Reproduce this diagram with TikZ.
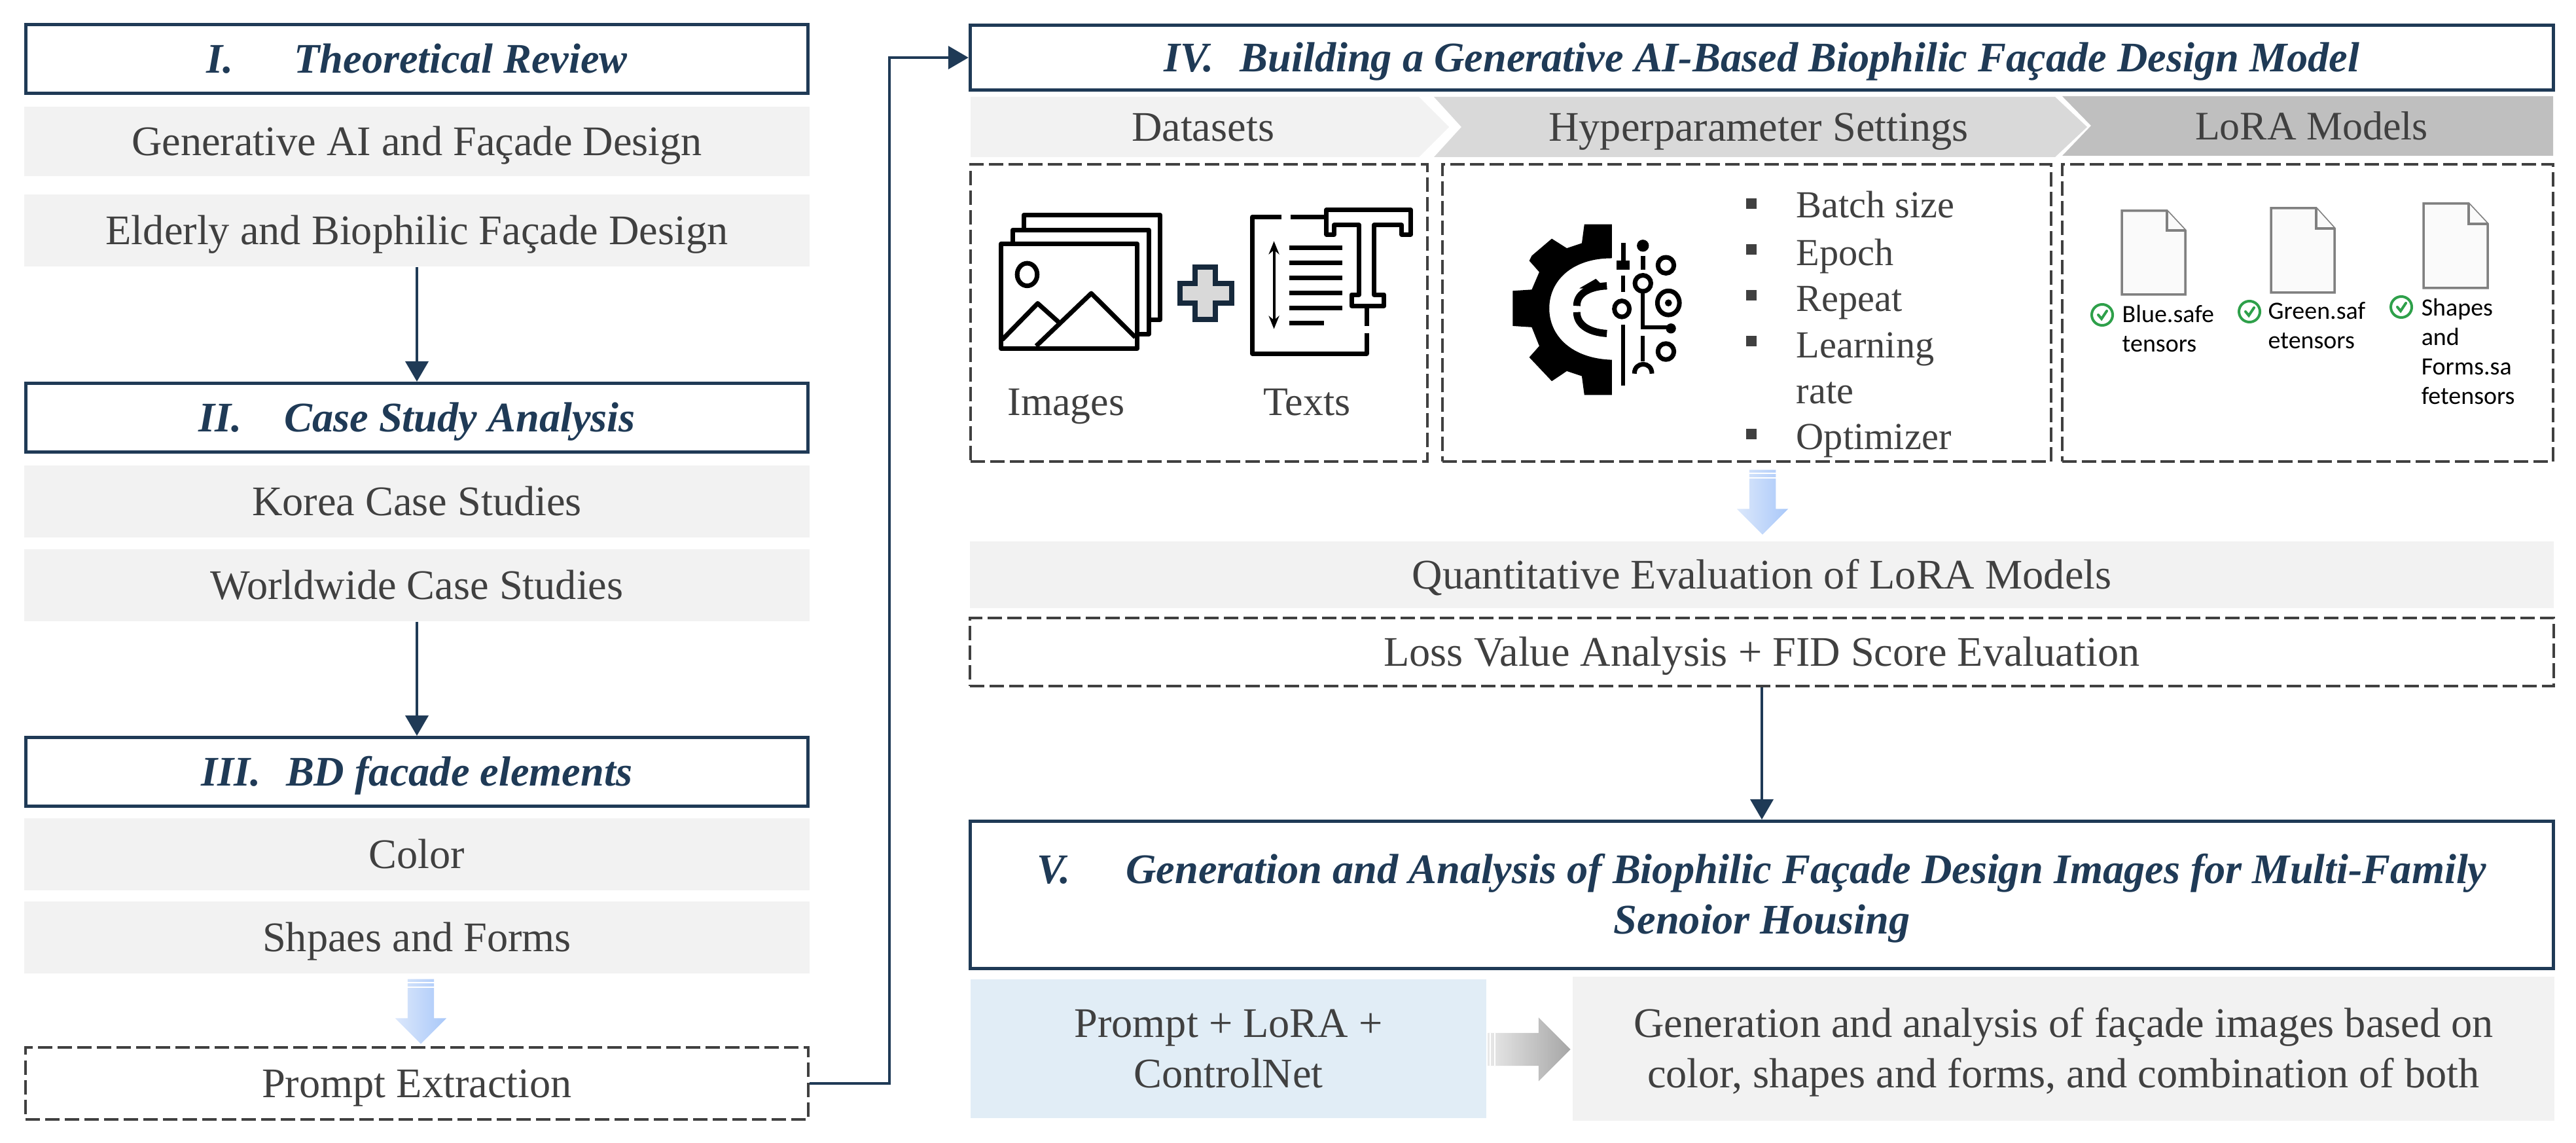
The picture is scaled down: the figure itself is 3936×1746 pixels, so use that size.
\documentclass[tikz,border=0pt]{standalone}
\usepackage{fontspec}
\setmainfont{Liberation Serif}
\newfontfamily\filefont{Carlito}
\usetikzlibrary{shapes.arrows,arrows.meta}
\definecolor{navy}{HTML}{1F3A56}
\definecolor{inktxt}{HTML}{404040}
\definecolor{paleg}{HTML}{F2F2F2}
\definecolor{midg}{HTML}{D9D9D9}
\definecolor{darkg}{HTML}{BFBFBF}
\definecolor{paleb}{HTML}{E1EDF6}
\definecolor{bluetop}{HTML}{DCE8FB}
\definecolor{bluelow}{HTML}{A9C8F9}
\definecolor{okgreen}{HTML}{2EA04A}

\begin{document}
\begin{tikzpicture}[x=0.01cm,y=-0.01cm]
        \tikzstyle{arrow}=[-{Triangle[length=0.31cm,width=0.35cm]},navy,line width=0.04cm];
        \tikzstyle{elbow}=[navy,line width=0.04cm];
        \tikzstyle{title}=[draw=navy,line width=0.05cm,inner sep=0,align=center,text height=0.5cm,text depth=0.08cm,font=\fontsize{18.3}{22}\selectfont\bfseries\itshape,text=navy];
        \tikzstyle{plain}=[fill=paleg,inner sep=0,align=center,text height=0.5cm,text depth=0.08cm,font=\fontsize{18.3}{22}\selectfont,text=inktxt];
        \tikzstyle{twoline}=[text height=1.27cm,text depth=0.08cm];
        \tikzstyle{dashbox}=[draw=inktxt,dash pattern=on 0.22cm off 0.08cm,line width=0.04cm,inner sep=0,align=center,text height=0.5cm,text depth=0.08cm,font=\fontsize{18.3}{22}\selectfont,text=inktxt];
        \tikzstyle{word}=[inner sep=0,text height=0.5cm,text depth=0.08cm,font=\fontsize{18.3}{22}\selectfont,text=inktxt];
        \tikzstyle{smallword}=[word,font=\fontsize{17.6}{22}\selectfont];
        \tikzstyle{listword}=[word,anchor=west,font=\fontsize{16.6}{22}\selectfont];
        \tikzstyle{bullet}=[fill=inktxt,inner sep=0,minimum size=0.16cm];
        \tikzstyle{fileword}=[inner sep=0,anchor=north west,align=left,font=\fontsize{10.8}{12.8}\selectfont\filefont,text=black];
        \tikzstyle{sheet}=[draw=gray,line width=0.035cm,fill=paleg!40];
        \tikzstyle{okmark}=[draw=okgreen,line width=0.04cm,line cap=round];
        \tikzstyle{blockarrow}=[single arrow,inner xsep=0,inner ysep=0.195cm,single arrow head extend=0.19cm];
        \tikzstyle{icon}=[line width=0.07cm,line join=round];
        \useasboundingbox (0,0) rectangle (3936,1746);

        % left column
        \node[title,minimum width=11.95cm,minimum height=1.05cm] (h1) at (637,90) {I.\hspace{0.93cm}Theoretical Review};
        \node[plain,minimum width=12cm,minimum height=1.05cm] (g1) at (637,216) {Generative AI and Façade Design};
        \node[plain,minimum width=12cm,minimum height=1.1cm] (g2) at (637,352) {Elderly and Biophilic Façade Design};
        \node[title,minimum width=11.95cm,minimum height=1.05cm] (h2) at (637,638) {II.\hspace{0.65cm}Case Study Analysis};
        \draw [arrow] (g2) -- (h2);
        \node[plain,minimum width=12cm,minimum height=1.1cm] (g3) at (637,766) {Korea Case Studies};
        \node[plain,minimum width=12cm,minimum height=1.1cm] (g4) at (637,894) {Worldwide Case Studies};
        \node[title,minimum width=11.95cm,minimum height=1.05cm] (h3) at (637,1179) {III.\hspace{0.38cm}BD facade elements};
        \draw [arrow] (g4) -- (h3);
        \node[plain,minimum width=12cm,minimum height=1.1cm] (g5) at (637,1305) {Color};
        \node[plain,minimum width=12cm,minimum height=1.1cm] (g6) at (637,1432) {Shpaes and Forms};
        \node[dashbox,minimum width=11.96cm,minimum height=1.09cm] (d1) at (637,1655) {Prompt Extraction};
        \node[blockarrow,minimum height=0.99cm,minimum width=0.77cm,rotate=-90,left color=bluetop,right color=bluelow] (b1) at (643,1535) {};
        \draw[white,line width=0.02cm] (b1.west) +(-30,6) -- +(30,6);
        \draw[white,line width=0.02cm] (b1.west) +(-30,13) -- +(30,13);

        % right column, top
        \node[title,minimum width=24.18cm,minimum height=0.99cm] (h4) at (2692,88) {IV.\hspace{0.4cm}Building a Generative AI-Based Biophilic Façade Design Model};
        \draw [elbow] (d1) -- (1359,1655) coordinate (c1) |- (1400,88) coordinate (c2);
        \draw [arrow] (c2) -- (h4);

        \fill[paleg] (1483,148) -- (2168,148) -- (2214,194) -- (2168,240) -- (1483,240) -- cycle;
        \fill[midg] (2191,148) -- (3140,148) -- (3189,194) -- (3140,240) -- (2191,240) -- (2233,194) -- cycle;
        \fill[darkg] (3151,147) -- (3901,147) -- (3901,238) -- (3151,238) -- (3195,192) -- cycle;
        \node[word] (t1) at (1838,194) {Datasets};
        \node[word] (t2) at (2687,194) {Hyperparameter Settings};
        \node[smallword] (t3) at (3532,192) {LoRA Models};

        \node[dashbox,minimum width=6.98cm,minimum height=4.54cm] (d2) at (1832,478) {};
        \node[dashbox,minimum width=9.3cm,minimum height=4.54cm] (d3) at (2669,478) {};
        \node[dashbox,minimum width=7.5cm,minimum height=4.54cm] (d4) at (3526,478) {};

        % images and texts icons
        \begin{scope}[shift={(14.6cm,-1.3cm)},x=0.00765cm,y=-0.00383cm]
            \draw[icon] (135,577) -- (135,518) -- (408,518) -- (408,935) -- (385,935);
            \draw[icon] (113,632) -- (113,577) -- (385,577) -- (385,992) -- (362,992);
            \draw[icon] (90,632) rectangle (362,1050);
            \draw[icon] (142,755) circle [x radius=20,y radius=45];
            \draw[icon] (92,1015) -- (163,870) -- (205,945);
            \draw[icon] (160,1040) -- (270,830) -- (358,1005);
            \draw[line width=0.08cm,draw=navy!70!black,fill=midg] (478,725) -- (518,725) -- (518,790) -- (550,790) -- (550,868) -- (518,868) -- (518,935) -- (478,935) -- (478,868) -- (447,868) -- (447,790) -- (478,790) -- cycle;
            \draw[icon] (650,525) -- (592,525) -- (592,1070) -- (820,1070) -- (820,990);
            \draw[icon] (668,525) -- (735,525);
            \draw[icon] (740,595) -- (740,497) -- (908,497) -- (908,595) -- (890,595) -- (890,558) -- (835,558) -- (835,835) -- (855,835) -- (855,880) -- (790,880) -- (790,835) -- (805,835) -- (805,558) -- (755,558) -- (755,595) -- cycle;
            \draw[icon] (820,880) -- (820,960);
            \draw[icon] (665,648) -- (772,648);
            \draw[icon] (665,708) -- (772,708);
            \draw[icon] (665,768) -- (772,768);
            \draw[icon] (665,828) -- (772,828);
            \draw[icon] (665,888) -- (772,888);
            \draw[icon] (665,948) -- (735,948);
            \draw[line width=0.04cm,{Stealth[length=0.2cm,width=0.16cm]}-{Stealth[length=0.2cm,width=0.16cm]}] (635,622) -- (635,972);
        \end{scope}
        \node[smallword] (t4) at (1629,613) {Images};
        \node[smallword] (t5) at (1997,613) {Texts};

        % gear icon
        \begin{scope}[shift={(14.6cm,-1.3cm)},x=0.00765cm,y=-0.00383cm]
            \fill (1310,555) -- (1255,555) -- (1250,630) -- (1220,650) -- (1190,612) -- (1150,680) -- (1145,700) -- (1165,745) -- (1150,815) -- (1112,820) -- (1112,960) -- (1150,965) -- (1165,1040) -- (1145,1085) -- (1190,1180) -- (1220,1140) -- (1250,1160) -- (1255,1235) -- (1310,1235) -- (1310,1095) .. controls (1230,1090) and (1185,1000) .. (1185,890) .. controls (1185,780) and (1230,690) .. (1310,690) -- cycle;
            \draw[line width=0.11cm] (1300,800) .. controls (1260,805) and (1240,835) .. (1240,880);
            \draw[line width=0.11cm] (1240,905) .. controls (1240,950) and (1260,985) .. (1300,990);
            \fill (1278,772) -- (1245,810) -- (1300,815) -- cycle;
            \draw[icon] (1333,630) -- (1333,700);
            \fill (1320,700) rectangle (1345,735);
            \fill (1372,640) circle [x radius=12,y radius=24];
            \draw[icon] (1372,680) -- (1372,735);
            \draw[icon] (1418,718) circle [x radius=16,y radius=32];
            \draw[icon] (1372,790) circle [x radius=16,y radius=32];
            \draw[icon] (1423,868) circle [x radius=22,y radius=48];
            \fill (1423,868) circle [x radius=7,y radius=14];
            \draw[icon] (1330,892) circle [x radius=15,y radius=32];
            \draw[icon] (1418,1062) circle [x radius=16,y radius=32];
            \draw[line width=0.06cm] (1333,760) -- (1333,825);
            \draw[line width=0.06cm] (1372,825) -- (1372,965) -- (1425,965);
            \fill (1428,970) circle [x radius=10,y radius=20];
            \draw[line width=0.06cm] (1333,955) -- (1333,1198);
            \draw[line width=0.06cm] (1372,1000) -- (1372,1100);
            \draw[icon] (1355,1150) .. controls (1355,1100) and (1390,1100) .. (1390,1150);
        \end{scope}

        % hyperparameter list
        \node[bullet] (s1) at (2676,311) {};
        \node[listword] (l1) at (2744,311) {Batch size};
        \node[bullet] (s2) at (2676,381) {};
        \node[listword] (l2) at (2744,384) {Epoch};
        \node[bullet] (s3) at (2676,451) {};
        \node[listword] (l3) at (2744,454) {Repeat};
        \node[bullet] (s4) at (2676,521) {};
        \node[listword] (l4) at (2744,525) {Learning};
        \node[listword] (l5) at (2744,595) {rate};
        \node[bullet] (s5) at (2676,663) {};
        \node[listword] (l6) at (2744,665) {Optimizer};

        % files
        \draw[sheet] (3242,322) -- (3311,322) -- (3339,352) -- (3339,450) -- (3242,450) -- cycle;
        \draw[sheet] (3311,322) -- (3311,352) -- (3339,352);
        \draw[sheet] (3470,318) -- (3539,318) -- (3567,349) -- (3567,447) -- (3470,447) -- cycle;
        \draw[sheet] (3539,318) -- (3539,349) -- (3567,349);
        \draw[sheet] (3703,311) -- (3772,311) -- (3801,342) -- (3801,440) -- (3703,440) -- cycle;
        \draw[sheet] (3772,311) -- (3772,342) -- (3801,342);
        \node[fileword] (f1) at (3242,465) {Blue.safe\\tensors};
        \node[fileword] (f2) at (3465,461) {Green.saf\\etensors};
        \node[fileword] (f3) at (3699,455) {Shapes\\and\\Forms.sa\\fetensors};
        \draw[okmark] (3212,481) circle (0.16cm);
        \draw[okmark] (3206,481) -- (3211,487) -- (3219,475);
        \draw[okmark] (3437,476) circle (0.16cm);
        \draw[okmark] (3431,476) -- (3436,482) -- (3444,470);
        \draw[okmark] (3669,469) circle (0.16cm);
        \draw[okmark] (3663,469) -- (3668,475) -- (3676,463);

        % right column, evaluation
        \node[blockarrow,minimum height=0.99cm,minimum width=0.77cm,rotate=-90,left color=bluetop,right color=bluelow] (b2) at (2693,757) {};
        \draw[white,line width=0.02cm] (b2.west) +(-30,6) -- +(30,6);
        \draw[white,line width=0.02cm] (b2.west) +(-30,13) -- +(30,13);
        \node[plain,minimum width=24.18cm,minimum height=1.01cm] (g7) at (2692,878) {Quantitative Evaluation of LoRA Models};
        \node[dashbox,minimum width=24.18cm,minimum height=1.03cm] (d5) at (2692,996) {Loss Value Analysis + FID Score Evaluation};
        \node[title,twoline,minimum width=24.18cm,minimum height=2.25cm] (h5) at (2692,1367) {V.\hspace{0.85cm}Generation and Analysis of Biophilic Façade Design Images for Multi-Family\\Senoior Housing};
        \draw [arrow] (d5) -- (h5);

        % right column, bottom
        \node[plain,twoline,fill=paleb,minimum width=7.88cm,minimum height=2.12cm] (p1) at (1877,1602) {Prompt + LoRA +\\ControlNet};
        \node[plain,twoline,minimum width=15cm,minimum height=2.19cm] (p2) at (3153,1602) {Generation and analysis of façade images based on\\color, shapes and forms, and combination of both};
        \node[blockarrow,minimum height=1.26cm,minimum width=0.96cm,inner ysep=0.245cm,single arrow head extend=0.235cm,left color=midg!60,right color=gray!70] (b3) at (2324,1603) {};
        \draw[white,line width=0.02cm] (b3.west) +(4,-25) -- +(4,25);
        \draw[white,line width=0.02cm] (b3.west) +(11,-25) -- +(11,25);
\end{tikzpicture}
\end{document}
